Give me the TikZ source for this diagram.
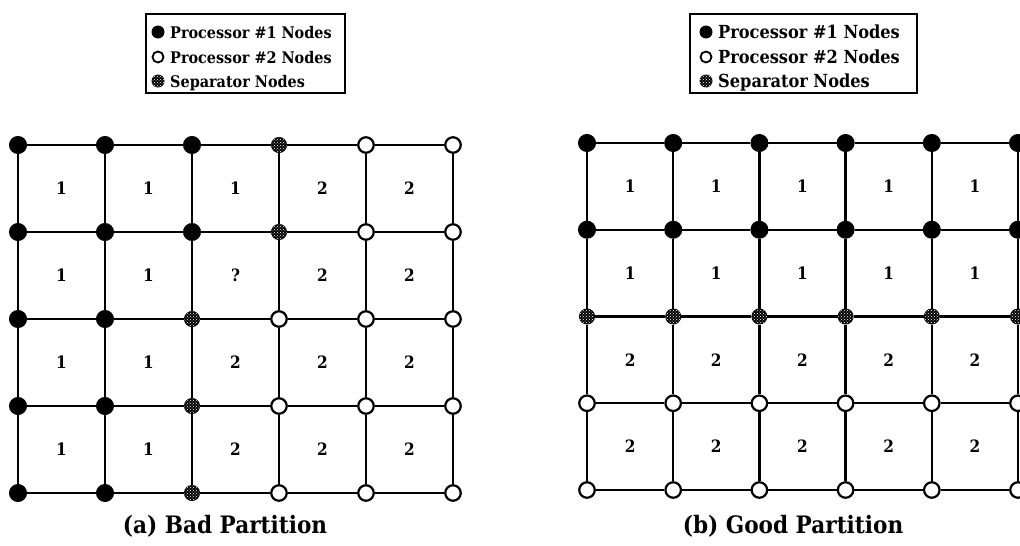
\documentclass[tikz,border=0pt]{standalone}
\usepackage{fontspec}
\setmainfont{DejaVu Serif Condensed}
\usetikzlibrary{patterns,calc}
\begin{document}
\begin{tikzpicture}[x=1pt,y=-1pt,
  pone/.style={circle,fill=black,draw=black,line width=1pt,minimum size=17pt,inner sep=0pt},
  ptwo/.style={circle,fill=white,draw=black,line width=2.2pt,minimum size=15.5pt,inner sep=0pt},
  psep/.style={circle,fill=black,draw=black,line width=1pt,minimum size=15pt,inner sep=0pt,
    postaction={pattern=crosshatch dots,pattern color=white}},
  gridline/.style={line width=2.3pt},
  cell/.style={font=\bfseries\fontsize{17}{17}\selectfont,inner sep=0pt},
  legbox/.style={draw,line width=1.4pt,minimum width=199pt,minimum height=79pt},
  legtext/.style={anchor=base west,font=\bfseries\fontsize{16}{16}\selectfont,inner sep=0pt},
  legtextb/.style={legtext,font=\bfseries\fontsize{18}{18}\selectfont},
  lone/.style={circle,fill=black,minimum size=13pt,inner sep=0pt},
  ltwo/.style={circle,draw=black,line width=1.8pt,minimum size=11pt,inner sep=0pt},
  lsep/.style={circle,fill=black,minimum size=13pt,inner sep=0pt,
    postaction={pattern=crosshatch dots,pattern color=white}},
  caption/.style={font=\bfseries\fontsize{24}{24}\selectfont,inner sep=0pt}
]
\useasboundingbox (0,0) rectangle (1020,546);

% ---------- (a) bad partition ----------
\foreach \r/\types in {0/{pone,pone,pone,psep,ptwo,ptwo},
                       1/{pone,pone,pone,psep,ptwo,ptwo},
                       2/{pone,pone,psep,ptwo,ptwo,ptwo},
                       3/{pone,pone,psep,ptwo,ptwo,ptwo},
                       4/{pone,pone,psep,ptwo,ptwo,ptwo}}
  \foreach \t [count=\c from 0] in \types
    \node[\t] (A\r\c) at ({18+87*\c},{145+87*\r}) {};

\foreach \r in {0,...,4}
  \foreach \c in {0,...,4} {
    \pgfmathtruncatemacro\cn{\c+1}
    \draw[gridline] (A\r\c) -- (A\r\cn);
  }
\foreach \r in {0,...,3} {
  \pgfmathtruncatemacro\rn{\r+1}
  \foreach \c in {0,...,5}
    \draw[gridline] (A\r\c) -- (A\rn\c);
}

\foreach \r/\labs in {0/{1,1,1,2,2},1/{1,1,?,2,2},2/{1,1,2,2,2},3/{1,1,2,2,2}} {
  \pgfmathtruncatemacro\rn{\r+1}
  \foreach \l [count=\c from 0] in \labs {
    \pgfmathtruncatemacro\cn{\c+1}
    \node[cell] (AL\r\c) at ($(A\r\c)!0.5!(A\rn\cn)$) {\l};
  }
}

\node[legbox] (legA) at (245.5,53.5) {};
\node[lone] (legA1) at (158,32) {};
\node[ltwo] (legA2) at (158,57) {};
\node[lsep] (legA3) at (158,81) {};
\node[legtext] (legAt1) at (170,38) {Processor \#1 Nodes};
\node[legtext] (legAt2) at (170,63) {Processor \#2 Nodes};
\node[legtext] (legAt3) at (170,87) {Separator Nodes};

\node[caption] (capA) at (225,526) {(a) Bad Partition};

% ---------- (b) good partition ----------
\foreach \r/\t in {0/pone,1/pone,2/psep,3/ptwo,4/ptwo}
  \foreach \c in {0,...,5}
    \node[\t] (B\r\c) at ({587+86.2*\c},{143+86.75*\r}) {};

\foreach \r in {0,...,4}
  \foreach \c in {0,...,4} {
    \pgfmathtruncatemacro\cn{\c+1}
    \draw[gridline] (B\r\c) -- (B\r\cn);
  }
\foreach \r in {0,...,3} {
  \pgfmathtruncatemacro\rn{\r+1}
  \foreach \c in {0,...,5}
    \draw[gridline] (B\r\c) -- (B\rn\c);
}

\foreach \r/\l in {0/1,1/1,2/2,3/2} {
  \pgfmathtruncatemacro\rn{\r+1}
  \foreach \c in {0,...,4} {
    \pgfmathtruncatemacro\cn{\c+1}
    \node[cell] (BL\r\c) at ($(B\r\c)!0.5!(B\rn\cn)$) {\l};
  }
}

\node[legbox,minimum width=227pt] (legB) at (803.5,53.5) {};
\node[lone] (legB1) at (706,32) {};
\node[ltwo] (legB2) at (706,57) {};
\node[lsep] (legB3) at (706,81) {};
\node[legtextb] (legBt1) at (718,38) {Processor \#1 Nodes};
\node[legtextb] (legBt2) at (718,63) {Processor \#2 Nodes};
\node[legtextb] (legBt3) at (718,87) {Separator Nodes};

\node[caption] (capB) at (793,526) {(b) Good Partition};
\end{tikzpicture}
\end{document}
